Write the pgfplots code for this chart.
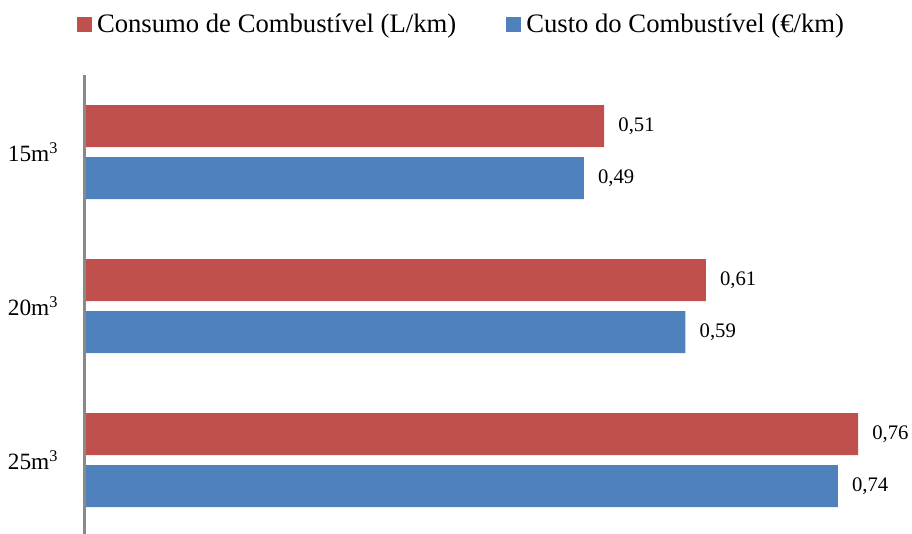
\documentclass[border=0pt]{standalone}
\usepackage{fontspec}
\setmainfont{Liberation Serif}
\usepackage{pgfplots}
\pgfplotsset{compat=1.18}
\definecolor{barred}{HTML}{C0504D}
\definecolor{barblue}{HTML}{4F81BD}
\definecolor{axgray}{HTML}{898989}

% y = 0,1,2 -> 25, 20, 15 m3
\pgfplotstableread{
y consumo custo
2 0.51 0.49
1 0.61 0.59
0 0.76 0.74
}\dados

\begin{document}
\begin{tikzpicture}
\begin{axis}[
  at={(63.375pt,-56.25pt)}, anchor=north west,
  scale only axis,
  width=610.7pt, height=346.5pt,
  xmin=-0.0015, xmax=0.8,
  ymin=-0.5, ymax=2.5,
  xbar, bar width=31.5pt,
  axis x line=none,
  axis y line=left,
  y axis line style={draw=axgray, line width=2pt, -},
  ytick={0,1,2},
  yticklabels={25m\textsuperscript{3},20m\textsuperscript{3},15m\textsuperscript{3}},
  ytick style={draw=none},
  major tick length=0pt,
  yticklabel style={anchor=east, inner sep=0pt, xshift=-19.5pt, font=\fontsize{17.5}{20}\selectfont},
  clip=false,
  point meta=x,
  nodes near coords={\pgfmathprintnumber[fixed, precision=2, fixed zerofill, use comma, assume math mode=true]{\pgfplotspointmeta}},
  every node near coord/.append style={anchor=west, inner sep=0pt, xshift=10.5pt, font=\fontsize{15.5}{18}\selectfont, text=black},
  legend columns=2,
  legend image code/.code={\fill[#1] (0pt,-5.625pt) rectangle (11.25pt,5.625pt);},
  legend style={at={(0,1)}, anchor=west, xshift=-5.6pt, yshift=37.875pt,
    draw=none, fill=none, inner sep=0pt, outer sep=0pt,
    nodes={inner sep=0pt, font=\fontsize{20}{24}\selectfont},
    /tikz/every odd column/.append style={column sep=3.75pt},
    /tikz/every even column/.append style={column sep=37.5pt}},
]
\addplot[fill=barred, draw=none, bar shift=19.5pt] table[x=consumo, y=y] {\dados};
\addlegendentry{Consumo de Combustível (L/km)}
\addplot[fill=barblue, draw=none, bar shift=-19.5pt] table[x=custo, y=y] {\dados};
\addlegendentry{Custo do Combustível (€/km)}
\end{axis}
\pgfresetboundingbox
\useasboundingbox (0,0) rectangle (684pt,-399.75pt);
\end{tikzpicture}
\end{document}
